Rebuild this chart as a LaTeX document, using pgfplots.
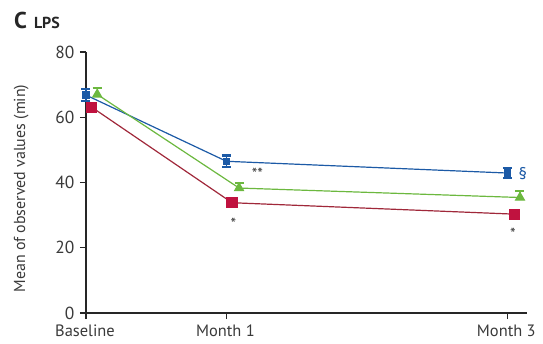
\documentclass[border=0pt]{standalone}
\usepackage{pgfplots}
\pgfplotsset{compat=1.18}
\usepackage{fontspec}
\setmainfont{PT Sans}
\definecolor{cblue}{HTML}{1C5AA6}
\definecolor{cgreen}{HTML}{6CB83F}
\definecolor{cred}{HTML}{C0123F}
\definecolor{credline}{HTML}{A0283A}
\definecolor{txt}{HTML}{3A3A3A}
\begin{document}
\begin{tikzpicture}[x=1bp,y=1bp]
\begin{axis}[
  at={(0,0)}, anchor=south west,
  scale only axis, width=441bp, height=261bp,
  xmin=0, xmax=3.14, ymin=0, ymax=80,
  axis lines=left, axis line style={-, line width=1.1bp, black!85},
  xtick={0,1,3}, xticklabels={Baseline, Month 1, Month 3},
  ytick={0,20,40,60,80},
  tick align=outside, major tick length=6bp,
  tick style={line width=1.1bp, black!85},
  ticklabel style={font=\fontsize{16.5}{17}\selectfont, text=txt},
  /pgf/number format/assume math mode=true,
  xticklabel style={yshift=-2bp, xshift=-1bp},
  yticklabel style={xshift=-2bp, font=\fontsize{17.5}{18}\selectfont},
  ylabel={Mean of observed values (min)},
  ylabel style={font=\fontsize{16}{17}\selectfont, text=txt, yshift=20bp, xshift=-6bp},
  clip=false,
  error bars/error bar style={line width=1.2bp},
  error bars/error mark options={rotate=90, mark size=4.5bp, line width=2.6bp},
]
% blue group
\addplot[cblue, line width=1.2bp, mark=square*, mark size=3bp,
  error bars/.cd, y dir=both, y explicit]
  coordinates {(0,66.8) +- (0,1.8) (1,46.5) +- (0,1.8) (3,42.9) +- (0,1.5)};
% green group
\addplot[cgreen, line width=1.2bp, mark=triangle*, mark size=5bp,
  error bars/.cd, y dir=plus, y explicit]
  coordinates {(0.08,67.0) +- (0,2.0) (1.09,38.3) +- (0,1.6) (3.09,35.4) +- (0,2.0)};
% red group
\addplot[credline, line width=1.2bp, mark=square*, mark size=5bp,
  mark options={fill=cred, draw=cred},
  error bars/.cd, y dir=both, y explicit]
  coordinates {(0.04,63.1) +- (0,1.0) (1.04,33.8) +- (0,1.0) (3.05,30.3) +- (0,1.0)};
% significance markers
\node[text=txt, font=\fontsize{16}{16}\selectfont] at (axis cs:1.22,42.8) {**};
\node[text=txt, font=\fontsize{16}{16}\selectfont] at (axis cs:1.05,27.4) {*};
\node[text=cblue, font=\fontsize{17}{17}\selectfont] at (axis cs:3.11,42.8) {§};
\node[text=txt, font=\fontsize{16}{16}\selectfont] at (axis cs:3.04,24.2) {*};
\end{axis}
% panel title
\node[anchor=base west, text=black!85, inner sep=0] at (-72bp,284bp)
  {\fontsize{23}{23}\selectfont\bfseries C\hspace{7bp}\fontsize{16}{16}\selectfont LPS};
\path[use as bounding box] (-86bp,-31bp) rectangle (457bp,313bp);
\end{tikzpicture}
\end{document}
